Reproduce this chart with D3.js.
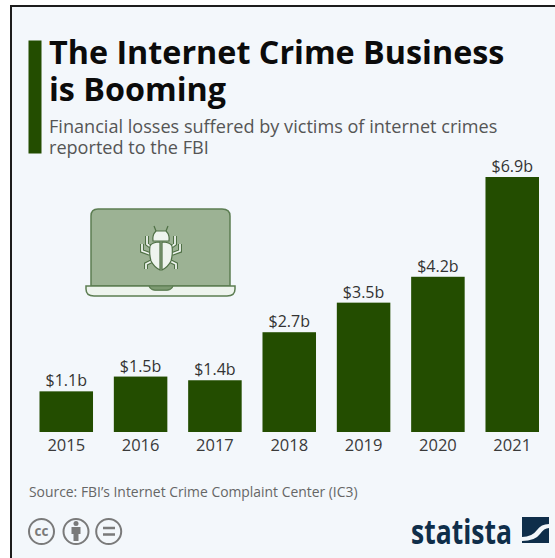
<!DOCTYPE html>
<html>
<head>
<meta charset="utf-8">
<style>
html,body{margin:0;padding:0;background:#fff;}
svg{display:block;}
text{font-family:"Open Sans",sans-serif;}
</style>
<script src="https://cdn.jsdelivr.net/npm/d3@7"></script>
</head>
<body>
<svg id="chart" width="555" height="558"></svg>
<script>
const years = ["2015","2016","2017","2018","2019","2020","2021"];
const losses = [1.1,1.5,1.4,2.7,3.5,4.2,6.9];
const valueLabels = ["$1.1b","$1.5b","$1.4b","$2.7b","$3.5b","$4.2b","$6.9b"];
const titleLines = ["The Internet Crime Business","is Booming"];
const subtitleLines = ["Financial losses suffered by victims of internet crimes","reported to the FBI"];
const sourceText = "Source: FBI\u2019s Internet Crime Complaint Center (IC3)";

const GREEN = "#234d00";
const svg = d3.select("#chart");

// Card background with its dark frame
svg.append("rect").attr("width",555).attr("height",558).attr("fill","#fff");
svg.append("rect").attr("x",11).attr("y",6).attr("width",546).attr("height",555)
  .attr("fill","#f3f7fb").attr("stroke","#1c1c1c").attr("stroke-width",2);

// Heading block
svg.append("rect").attr("x",28.5).attr("y",40.5).attr("width",13).attr("height",113).attr("fill",GREEN);
svg.selectAll("text.title").data(titleLines).join("text").attr("class","title")
  .attr("x",49).attr("y",(d,i)=>64+i*37)
  .attr("font-size",32.3).attr("font-weight",700).attr("fill","#0b0b0b").text(d=>d);
svg.selectAll("text.sub").data(subtitleLines).join("text").attr("class","sub")
  .attr("x",49).attr("y",(d,i)=>133+i*21)
  .attr("font-size",18.1).attr("fill","#555").text(d=>d);

// Bars
const x = d3.scaleBand().domain(years).range([28.35,550.15]).paddingInner(0.28).paddingOuter(0.15);
const y = d3.scaleLinear().domain([0,6.9]).range([432,177]);

svg.selectAll("rect.bar").data(years).join("rect").attr("class","bar")
  .attr("x",d=>x(d)).attr("width",x.bandwidth())
  .attr("y",(d,i)=>y(losses[i])).attr("height",(d,i)=>y(0)-y(losses[i]))
  .attr("fill",GREEN);

svg.selectAll("text.val").data(years).join("text").attr("class","val")
  .attr("x",d=>x(d)+x.bandwidth()/2).attr("y",(d,i)=>y(losses[i])-5)
  .attr("text-anchor","middle").attr("font-size",16).attr("fill","#333")
  .text((d,i)=>valueLabels[i]);

const axis = svg.append("g").attr("transform","translate(0,432)")
  .call(d3.axisBottom(x).tickSize(0).tickPadding(7));
axis.select(".domain").remove();
axis.selectAll("text").attr("font-family","'Open Sans',sans-serif")
  .attr("font-size",16.5).attr("fill","#3a3a3a");

// Laptop illustration
const laptop = svg.append("g").attr("transform","translate(70,195)");
laptop.append("path")
  .attr("d","M21 91V21Q21 14 28 14H152Q160 14 160 21V91Z")
  .attr("fill","#9cb294").attr("stroke","#5c7d52").attr("stroke-width",1.5);
laptop.append("path")
  .attr("d","M16 91H79Q81 95 85 95H97Q101 95 103 91H165V94Q165 101 157 101H24Q16 101 16 94Z")
  .attr("fill","#eef4ee").attr("stroke","#5c7d52").attr("stroke-width",1.5);
laptop.append("path").attr("d","M79 91Q81 95 85 95H97Q101 95 103 91Z").attr("fill","#7d9a72").attr("stroke","#5c7d52");

// Bug glyph on the screen
const legs = "M81 52L77 49V41M101 52L105 49V41M80 59L72 56V49M102 59L110 56V49M82 66L76 69V74M100 66L106 69V74";
const bug = laptop.append("g").attr("fill","#eef4ee").attr("stroke","#4f7045").attr("stroke-width",1.2);
bug.append("path").attr("fill","none").attr("stroke-width",4).attr("d",legs);
bug.append("path").attr("fill","none").attr("stroke-width",1.8).attr("stroke","#eef4ee").attr("d",legs);
bug.append("path").attr("d","M90 47V75Q84 72 81 66Q79 59 80 51Q82 47 90 47Z");
bug.append("path").attr("d","M92 47V75Q98 72 101 66Q103 59 102 51Q100 47 92 47Z");
bug.append("path").attr("d","M86 36L84 31M96 36L98 31M86 36H96Q100 40 99 46H83Q82 40 86 36Z");

// Source line
svg.append("text").attr("x",29).attr("y",497).attr("font-size",13.9).attr("fill","#666").text(sourceText);

// Creative Commons marks
const cc = svg.append("g").attr("fill","none").attr("stroke","#7a7a7a").attr("stroke-width",2);
[41.5,76,108.7].forEach(cx=>cc.append("circle").attr("cx",cx).attr("cy",531.5).attr("r",12.5));
svg.append("text").attr("x",41.5).attr("y",536).attr("text-anchor","middle")
  .attr("font-size",13.5).attr("font-weight",700).attr("fill","#7a7a7a").text("cc");
svg.append("circle").attr("cx",76).attr("cy",523.5).attr("r",2.5).attr("fill","#7a7a7a");
svg.append("path").attr("d","M71.5 527H80.5V534H78.5V541H73.5V534H71.5Z").attr("fill","#7a7a7a");
svg.append("path").attr("d","M103 528H115M103 534.5H115").attr("stroke","#7a7a7a").attr("stroke-width",2.4);

// Statista wordmark and logo
svg.append("text").attr("x",411).attr("y",544).attr("font-family","'Open Sans',sans-serif")
  .attr("font-size",34).attr("font-weight",700).attr("fill","#0f2e4a")
  .attr("textLength",101).attr("lengthAdjust","spacingAndGlyphs").text("statista");
svg.append("path").attr("d","M522 517H549V524Q541 524 537 530Q532 537 522 537Z").attr("fill","#0f2e4a");
svg.append("path").attr("d","M549 528V543H522V541Q535 541 540 534Q544 528 549 528Z").attr("fill","#0f2e4a");
</script>
</body>
</html>
